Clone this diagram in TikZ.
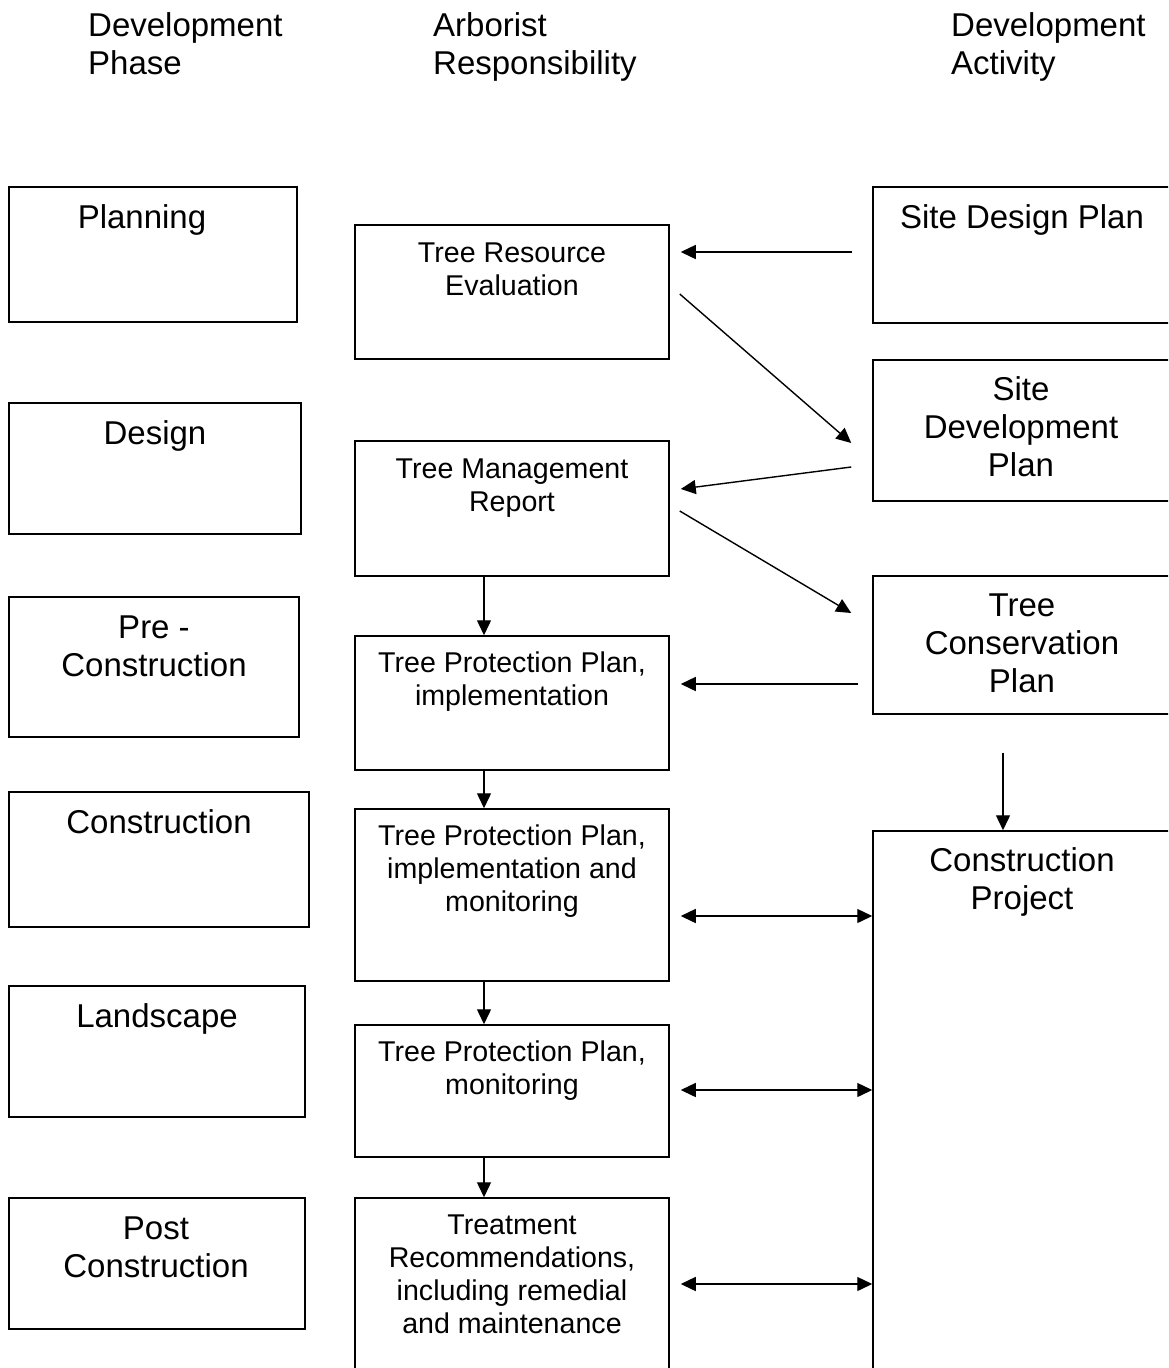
\documentclass[tikz,border=0pt]{standalone}
\usepackage{fontspec}
\setmainfont{Liberation Sans}
\usetikzlibrary{arrows.meta,calc}
\begin{document}
\begin{tikzpicture}[x=1pt,y=-1pt,
  box/.style={draw,line width=1.5pt,inner sep=0pt},
  hdr/.style={inner sep=0pt,anchor=base west,align=left,font=\fontsize{33}{38}\selectfont},
  big/.style={inner sep=0pt,anchor=base,align=center,font=\fontsize{33}{38}\selectfont},
  small/.style={inner sep=0pt,anchor=base,align=center,font=\fontsize{28.6}{33}\selectfont},
  arr/.style={line width=1.4pt,-{Triangle[length=15pt,width=14pt]}},
  darr/.style={line width=1.4pt,{Triangle[length=15pt,width=14pt]}-{Triangle[length=15pt,width=14pt]}}]
\useasboundingbox (0,0) rectangle (1168,1368);
\clip (0,0) rectangle (1168,1368);
% headers (anchor = baseline of last line)
\node[hdr] (h1) at (88,74) {Development\\Phase};
\node[hdr] (h2) at (433,74) {Arborist\\Responsibility};
\node[hdr] (h3) at (951,74) {Development\\Activity};
% left column
\node[box,minimum width=288pt,minimum height=135pt] (plan) at (153,254.5) {};
\node[box,minimum width=292pt,minimum height=131pt] (design) at (155,468.5) {};
\node[box,minimum width=290pt,minimum height=140pt] (pre) at (154,667) {};
\node[box,minimum width=300pt,minimum height=135pt] (cons) at (159,859.5) {};
\node[box,minimum width=296pt,minimum height=131pt] (land) at (157,1051.5) {};
\node[box,minimum width=296pt,minimum height=131pt] (post) at (157,1263.5) {};
\node[big] (tplan) at (142,228.5) {Planning};
\node[big] (tdesign) at (155,444.5) {Design};
\node[big] (tpre) at (154,676.5) {Pre -\\Construction};
\node[big] (tcons) at (159,833.5) {Construction};
\node[big] (tland) at (157,1027.5) {Landscape};
\node[big] (tpost) at (156,1277.5) {Post\\Construction};
% middle column
\node[box,minimum width=314pt,minimum height=134pt] (tre) at (512,292) {};
\node[box,minimum width=314pt,minimum height=135pt] (tmr) at (512,508.5) {};
\node[box,minimum width=314pt,minimum height=134pt] (tpp1) at (512,703) {};
\node[box,minimum width=314pt,minimum height=172pt] (tpp2) at (512,895) {};
\node[box,minimum width=314pt,minimum height=132pt] (tpp3) at (512,1091) {};
\node[box,minimum width=314pt,minimum height=192pt] (treat) at (512,1294) {};
\node[small] (ttre) at (512,295) {Tree Resource\\Evaluation};
\node[small] (ttmr) at (512,511) {Tree Management\\Report};
\node[small] (ttpp1) at (512,705) {Tree Protection Plan,\\implementation};
\node[small] (ttpp2) at (512,911) {Tree Protection Plan,\\implementation and\\monitoring};
\node[small] (ttpp3) at (512,1094) {Tree Protection Plan,\\monitoring};
\node[small] (ttreat) at (512,1333) {Treatment\\Recommendations,\\including remedial\\and maintenance};
% right column
\node[box,minimum width=298pt,minimum height=136pt] (sdp) at (1022,255) {};
\node[box,minimum width=298pt,minimum height=141pt] (sdev) at (1022,430.5) {};
\node[box,minimum width=298pt,minimum height=138pt] (tcp) at (1022,645) {};
\node[box,minimum width=298pt,minimum height=559pt] (cp) at (1022,1110.5) {};
\node[big] (tsdp) at (1022,228.5) {Site Design Plan};
\node[big] (tsdev) at (1021,476.5) {Site\\Development\\Plan};
\node[big] (ttcp) at (1022,692.5) {Tree\\Conservation\\Plan};
\node[big] (tcp2) at (1022,909.5) {Construction\\Project};
% connector ends
\coordinate (c1s) at ($(sdp.west)+(-20,-3)$);
\coordinate (c1e) at ($(tre.east)+(11,-40)$);
\coordinate (c2s) at ($(tre.east)+(10,2)$);
\coordinate (c2e) at ($(sdev.west)+(-21,12.5)$);
\coordinate (c3s) at ($(sdev.west)+(-21,36.5)$);
\coordinate (c3e) at ($(tmr.east)+(11,-19.5)$);
\coordinate (c4s) at ($(tmr.east)+(10,2.5)$);
\coordinate (c4e) at ($(tcp.west)+(-21,-32)$);
\coordinate (c5s) at ($(tcp.west)+(-14,39)$);
\coordinate (c5e) at ($(tpp1.east)+(11,-19)$);
\coordinate (c6s) at ($(tcp.south)+(-19,38)$);
\coordinate (c6e) at ($(cp.north)+(-19,0)$);
\coordinate (c7s) at ($(tmr.south)+(-28,0)$);
\coordinate (c7e) at ($(tpp1.north)+(-28,0)$);
\coordinate (c8s) at ($(tpp1.south)+(-28,0)$);
\coordinate (c8e) at ($(tpp2.north)+(-28,0)$);
\coordinate (c9s) at ($(tpp2.south)+(-28,0)$);
\coordinate (c9e) at ($(tpp3.north)+(-28,0)$);
\coordinate (c10s) at ($(tpp3.south)+(-28,0)$);
\coordinate (c10e) at ($(treat.north)+(-28,0)$);
\coordinate (d1) at ($(tpp2.east)+(11,21)$);
\coordinate (d2) at ($(tpp3.east)+(11,-1)$);
\coordinate (d3) at ($(treat.east)+(11,-10)$);
% connectors
\draw[arr] (c1s) -- (c1e);
\draw[arr] (c2s) -- (c2e);
\draw[arr] (c3s) -- (c3e);
\draw[arr] (c4s) -- (c4e);
\draw[arr] (c5s) -- (c5e);
\draw[arr] (c6s) -- (c6e);
\draw[arr] (c7s) -- (c7e);
\draw[arr] (c8s) -- (c8e);
\draw[arr] (c9s) -- (c9e);
\draw[arr] (c10s) -- (c10e);
\draw[darr] (d1) -- (cp.west |- d1);
\draw[darr] (d2) -- (cp.west |- d2);
\draw[darr] (d3) -- (cp.west |- d3);
\end{tikzpicture}
\end{document}
